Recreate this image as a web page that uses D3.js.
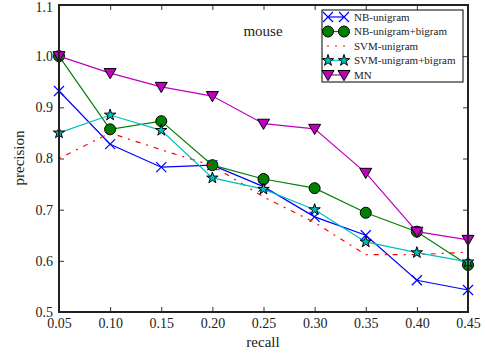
<!DOCTYPE html>
<html><head><meta charset="utf-8">
<script src="https://cdn.jsdelivr.net/npm/d3@7"></script>
<style>body{margin:0;background:#fff}svg{display:block}text{font-family:"Liberation Serif","DejaVu Serif",serif;fill:#222}</style>
</head><body><svg id="c" width="485" height="356"></svg>
<script>
const recall = [0.05,0.10,0.15,0.20,0.25,0.30,0.35,0.40,0.45];
const nbUni = [0.932,0.828,0.783,0.787,0.745,0.686,0.650,0.562,0.543];
const nbUniBi = [1.0,0.857,0.873,0.787,0.760,0.742,0.694,0.657,0.592];
const svmUni = [0.800,0.850,0.817,0.786,0.725,0.675,0.612,0.612,0.617];
const svmUniBi = [0.850,0.885,0.855,0.762,0.740,0.700,0.637,0.616,0.598];
const mn = [1.0,0.967,0.940,0.922,0.868,0.858,0.772,0.657,0.641];
const xTicks = [0.05,0.10,0.15,0.20,0.25,0.30,0.35,0.40,0.45];
const yTicks = [0.5,0.6,0.7,0.8,0.9,1.0,1.1];
const seriesNames = ["NB-unigram","NB-unigram+bigram","SVM-unigram","SVM-unigram+bigram","MN"];
const seriesValues = [nbUni,nbUniBi,svmUni,svmUniBi,mn];
const colors = ["#0000ff","#008000","#ff0000","#00bfbf","#bf00bf"];
const markers = ["x","circle","none","star","tri"];
const dashes = [null,null,"2,6,5,6",null,null];

const L=59,R=468,T=5,B=312;
const svg=d3.select("#c");
const x=d3.scaleLinear().domain([0.05,0.45]).range([L,R]);
const y=d3.scaleLinear().domain([0.5,1.1]).range([B,T]);

function drawMarker(g,type,cx,cy,color){
  if(type==="x"){
    g.append("path").attr("d",`M${cx-5},${cy-5}L${cx+5},${cy+5}M${cx-5},${cy+5}L${cx+5},${cy-5}`).attr("stroke",color).attr("stroke-width",1.2).attr("fill","none");
  } else if(type==="circle"){
    g.append("circle").attr("cx",cx).attr("cy",cy).attr("r",5.5).attr("fill",color).attr("stroke","#000").attr("stroke-width",1);
  } else if(type==="star"){
    g.append("path").attr("d",d3.symbol(d3.symbolStar,40)()).attr("transform",`translate(${cx},${cy})`).attr("fill",color).attr("stroke","#000").attr("stroke-width",1);
  } else if(type==="tri"){
    const s=6;
    g.append("path").attr("d",`M${cx-s},${cy-s*0.75}L${cx+s},${cy-s*0.75}L${cx},${cy+s*0.95}Z`).attr("fill",color).attr("stroke","#000").attr("stroke-width",1);
  }
}

// axes
const xAxis=d3.axisBottom(x).tickValues(xTicks).tickFormat(d3.format(".2f")).tickSizeInner(-5).tickSizeOuter(0).tickPadding(6);
const yAxis=d3.axisLeft(y).tickValues(yTicks).tickFormat(d3.format(".1f")).tickSizeInner(-5).tickSizeOuter(0).tickPadding(6);
const gx=svg.append("g").attr("transform",`translate(0,${B})`).call(xAxis);
const gy=svg.append("g").attr("transform",`translate(${L},0)`).call(yAxis);
const gxt=svg.append("g").attr("transform",`translate(0,${T})`).call(d3.axisTop(x).tickValues(xTicks).tickFormat("").tickSizeInner(-5).tickSizeOuter(0));
const gyr=svg.append("g").attr("transform",`translate(${R},0)`).call(d3.axisRight(y).tickValues(yTicks).tickFormat("").tickSizeInner(-5).tickSizeOuter(0));
[gx,gy,gxt,gyr].forEach(g=>{g.select(".domain").remove();g.selectAll(".tick line").attr("stroke","#333");g.selectAll("text").attr("font-size",14).attr("fill","#222").attr("font-family","Liberation Serif, serif");});
gy.selectAll(".tick text").attr("dy","0.32em");
gy.selectAll(".tick").filter(d=>d===1.1).select("text").attr("dy","0.45em");

// series
const line=d3.line().x((d,i)=>x(recall[i])).y(d=>y(d));
seriesValues.forEach((vals,k)=>{
  const g=svg.append("g");
  g.append("path").datum(vals).attr("d",line).attr("fill","none").attr("stroke",colors[k]).attr("stroke-width",1.2).attr("stroke-dasharray",dashes[k]);
  if(markers[k]!=="none") vals.forEach((v,i)=>drawMarker(g,markers[k],x(recall[i]),y(v),colors[k]));
});

// frame
svg.append("rect").attr("x",L).attr("y",T).attr("width",R-L).attr("height",B-T).attr("fill","none").attr("stroke","#222").attr("stroke-width",2);

// title
svg.append("text").attr("x",263).attr("y",36).attr("text-anchor","middle").attr("font-size",15).text("mouse");

// axis labels
svg.append("text").attr("x",263).attr("y",347).attr("text-anchor","middle").attr("font-size",15).text("recall");
svg.append("text").attr("transform","translate(24,158) rotate(-90)").attr("text-anchor","middle").attr("font-size",15).text("precision");

// legend
const lg=svg.append("g");
lg.append("rect").attr("x",322).attr("y",10).attr("width",141).attr("height",72).attr("fill","#fff").attr("stroke","#000").attr("stroke-width",1);
seriesNames.forEach((n,k)=>{
  const yy=17+k*14.5;
  lg.append("line").attr("x1",327).attr("x2",345).attr("y1",yy).attr("y2",yy).attr("stroke",colors[k]).attr("stroke-width",1.2).attr("stroke-dasharray",k===2?"2,6":null);
  if(markers[k]!=="none"){drawMarker(lg,markers[k],328,yy,colors[k]);drawMarker(lg,markers[k],344,yy,colors[k]);}
  lg.append("text").attr("x",354).attr("y",yy).attr("dy","0.35em").attr("font-size",11).text(n);
});
</script></body></html>
